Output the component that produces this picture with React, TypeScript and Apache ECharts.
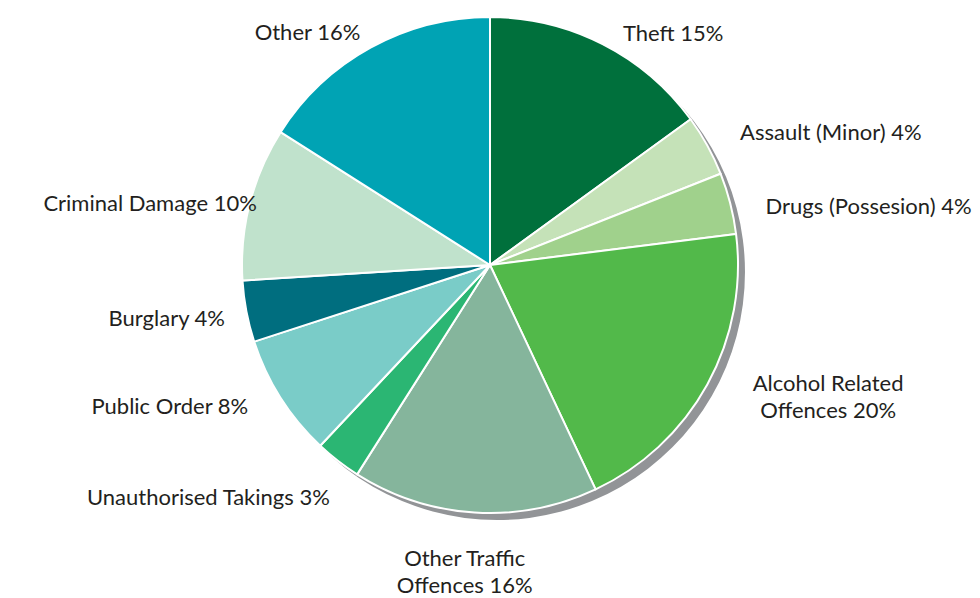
import React, { useEffect, useRef } from "react";
import * as echarts from "echarts";

const categories = [
  "Theft",
  "Assault (Minor)",
  "Drugs (Possesion)",
  "Alcohol Related\nOffences",
  "Other Traffic\nOffences",
  "Unauthorised Takings",
  "Public Order",
  "Burglary",
  "Criminal Damage",
  "Other",
];
const values = [15, 4, 4, 20, 16, 3, 8, 4, 10, 16];
const colors = [
  "#00703c",
  "#c5e2b8",
  "#a0d18c",
  "#52b94a",
  "#85b59c",
  "#2bb673",
  "#7accc8",
  "#006e7f",
  "#c0e2cc",
  "#00a3b4",
];

// label placement: distance along the slice's mid-angle, then horizontal shift
const labelRadius = [260, 274, 237, 274, 308, 294, 265, 283, 249, 265];
const labelShift = [15, 10, 46, 98, -6, 20, -18, 13, 8, -2];
const labelAlign = [
  "left",
  "left",
  "left",
  "center",
  "center",
  "right",
  "right",
  "right",
  "right",
  "right",
];

const CX = 490;
const CY = 265;
const R = 248;

export default function App() {
  const ref = useRef<HTMLDivElement>(null);
  useEffect(() => {
    if (!ref.current) return;
    const chart = echarts.init(ref.current, null, { renderer: "svg" });
    const total = values.reduce((a, b) => a + b, 0);
    const midAngles: number[] = [];
    let acc = 0;
    values.forEach((v) => {
      midAngles.push(((acc + v / 2) / total) * 2 * Math.PI);
      acc += v;
    });
    chart.setOption({
      animation: false,
      backgroundColor: "#ffffff",
      series: [
        {
          type: "pie",
          silent: true,
          center: [CX + 7, CY + 7],
          radius: R,
          label: { show: false },
          labelLine: { show: false },
          itemStyle: { color: "#929497" },
          data: [{ value: 1, name: "shadow" }],
          z: 1,
        },
        {
          type: "pie",
          center: [CX, CY],
          radius: R,
          startAngle: 90,
          clockwise: true,
          z: 2,
          avoidLabelOverlap: false,
          itemStyle: { borderColor: "#ffffff", borderWidth: 2 },
          label: {
            show: true,
            position: "outside",
            formatter: (p: any) => `${p.name} ${p.value}%`,
            fontFamily: "Lato, 'Open Sans', sans-serif",
            fontSize: 22,
            color: "#231f20",
            lineHeight: 27,
          },
          labelLine: { show: false },
          labelLayout: (params: any) => {
            if (params.seriesIndex !== 1) return {};
            const i = params.dataIndex;
            const a = midAngles[i];
            const x = CX + labelRadius[i] * Math.sin(a) + labelShift[i];
            const y = CY - labelRadius[i] * Math.cos(a) - 1;
            return { x, y, align: labelAlign[i], verticalAlign: "middle" };
          },
          data: categories.map((c, i) => ({
            name: c,
            value: values[i],
            itemStyle: { color: colors[i] },
          })),
        },
      ],
    });
    return () => chart.dispose();
  }, []);
  return (
    <div
      ref={ref}
      style={{ position: "fixed", left: 0, top: 0, width: 980, height: 598 }}
    />
  );
}
